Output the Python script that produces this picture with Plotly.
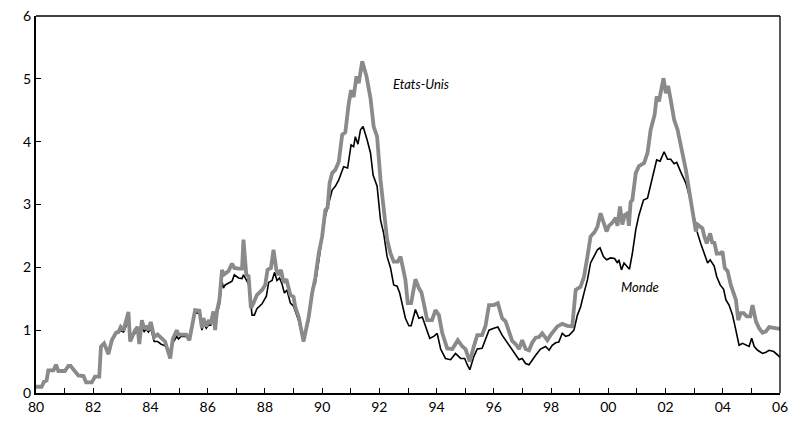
import plotly.graph_objects as go

# Etats-Unis (gray, thick)
us_x = [1980.00, 1980.20, 1980.28, 1980.37, 1980.43, 1980.61, 1980.70, 1980.78, 1981.01, 1981.13,
        1981.21, 1981.36, 1981.48, 1981.66, 1981.75, 1981.95, 1982.06, 1982.21, 1982.27, 1982.38,
        1982.53, 1982.65, 1982.80, 1982.88, 1982.96, 1983.06, 1983.23, 1983.29, 1983.46, 1983.55,
        1983.61, 1983.70, 1983.78, 1983.85, 1983.93, 1984.01, 1984.13, 1984.25, 1984.36, 1984.51,
        1984.69, 1984.78, 1984.92, 1984.98, 1985.06, 1985.25, 1985.36, 1985.56, 1985.71, 1985.80,
        1985.85, 1985.95, 1986.03, 1986.11, 1986.20, 1986.26, 1986.32, 1986.41, 1986.50, 1986.55,
        1986.61, 1986.73, 1986.85, 1986.93, 1987.08, 1987.20, 1987.25, 1987.35, 1987.43, 1987.51,
        1987.60, 1987.72, 1987.90, 1988.01, 1988.09, 1988.21, 1988.30, 1988.40, 1988.48, 1988.56,
        1988.65, 1988.75, 1988.89, 1989.00, 1989.06, 1989.18, 1989.35, 1989.53, 1989.65, 1989.76,
        1989.88, 1990.00, 1990.11, 1990.19, 1990.26, 1990.35, 1990.46, 1990.58, 1990.70, 1990.81,
        1990.93, 1991.01, 1991.10, 1991.20, 1991.28, 1991.40, 1991.55, 1991.69, 1991.80, 1991.92,
        1992.04, 1992.15, 1992.27, 1992.39, 1992.50, 1992.64, 1992.74, 1992.91, 1992.99, 1993.11,
        1993.26, 1993.38, 1993.47, 1993.55, 1993.67, 1993.84, 1993.96, 1994.08, 1994.20, 1994.37,
        1994.55, 1994.74, 1994.90, 1995.01, 1995.16, 1995.30, 1995.42, 1995.59, 1995.71, 1995.83,
        1996.00, 1996.14, 1996.29, 1996.41, 1996.53, 1996.64, 1996.76, 1996.88, 1996.99, 1997.11,
        1997.23, 1997.34, 1997.46, 1997.58, 1997.69, 1997.87, 1997.98, 1998.10, 1998.22, 1998.39,
        1998.57, 1998.74, 1998.86, 1999.03, 1999.15, 1999.27, 1999.38, 1999.52, 1999.62, 1999.73,
        1999.85, 1999.94, 2000.02, 2000.14, 2000.26, 2000.32, 2000.41, 2000.49, 2000.57, 2000.67,
        2000.72, 2000.78, 2000.84, 2000.96, 2001.07, 2001.25, 2001.37, 2001.48, 2001.62, 2001.69,
        2001.77, 2001.86, 2001.93, 2002.01, 2002.09, 2002.18, 2002.30, 2002.42, 2002.59, 2002.71,
        2002.88, 2003.00, 2003.06, 2003.12, 2003.21, 2003.29, 2003.35, 2003.44, 2003.56, 2003.64,
        2003.70, 2003.79, 2003.91, 2003.99, 2004.07, 2004.17, 2004.28, 2004.37, 2004.46, 2004.54,
        2004.63, 2004.73, 2004.84, 2004.96, 2005.04, 2005.16, 2005.27, 2005.39, 2005.51, 2005.62,
        2005.80, 2006.00]
us_y = [0.10, 0.10, 0.18, 0.20, 0.36, 0.36, 0.45, 0.35, 0.35, 0.43,
        0.43, 0.35, 0.28, 0.27, 0.17, 0.17, 0.26, 0.26, 0.74, 0.79,
        0.62, 0.84, 0.96, 0.97, 1.05, 1.00, 1.29, 0.82, 1.00, 1.05,
        0.78, 1.16, 1.02, 1.07, 1.00, 1.13, 0.89, 0.93, 0.88, 0.82,
        0.55, 0.86, 1.00, 0.93, 0.93, 0.93, 0.84, 1.32, 1.31, 1.03,
        1.19, 1.06, 1.14, 1.12, 1.30, 1.00, 1.30, 1.48, 1.96, 1.88,
        1.90, 1.94, 2.06, 1.99, 1.98, 1.98, 2.44, 1.88, 1.86, 1.35,
        1.43, 1.56, 1.64, 1.72, 1.96, 1.99, 2.28, 1.96, 1.88, 1.96,
        1.76, 1.81, 1.56, 1.53, 1.37, 1.21, 0.82, 1.21, 1.59, 1.83,
        2.22, 2.49, 2.91, 2.95, 3.34, 3.50, 3.55, 3.68, 4.11, 4.15,
        4.61, 4.82, 4.71, 5.04, 4.93, 5.28, 5.04, 4.69, 4.24, 4.08,
        3.39, 2.91, 2.44, 2.22, 2.09, 2.09, 2.17, 1.80, 1.43, 1.43,
        1.81, 1.67, 1.60, 1.43, 1.16, 1.16, 1.32, 1.24, 0.95, 0.71,
        0.70, 0.84, 0.74, 0.70, 0.50, 0.74, 0.92, 0.92, 1.07, 1.40,
        1.40, 1.43, 1.19, 1.14, 0.95, 0.83, 0.78, 0.70, 0.84, 0.70,
        0.68, 0.80, 0.88, 0.89, 0.95, 0.84, 0.92, 0.98, 1.06, 1.10,
        1.07, 1.06, 1.64, 1.69, 1.85, 2.17, 2.49, 2.56, 2.65, 2.86,
        2.70, 2.57, 2.66, 2.71, 2.79, 2.66, 2.97, 2.68, 2.83, 2.86,
        2.66, 3.04, 3.07, 3.50, 3.61, 3.66, 3.82, 4.19, 4.43, 4.72,
        4.64, 4.85, 5.01, 4.77, 4.89, 4.67, 4.35, 4.19, 3.82, 3.55,
        3.07, 2.75, 2.57, 2.68, 2.65, 2.62, 2.50, 2.38, 2.54, 2.38,
        2.41, 2.22, 2.22, 2.25, 1.99, 1.94, 1.72, 1.61, 1.48, 1.16,
        1.27, 1.27, 1.22, 1.22, 1.40, 1.14, 1.03, 0.96, 0.98, 1.05,
        1.04, 1.02]

# Monde (black, thin)
world_x = [1980.00, 1980.20, 1980.28, 1980.37, 1980.43, 1980.61, 1980.70, 1980.78, 1981.01, 1981.13,
           1981.21, 1981.36, 1981.48, 1981.66, 1981.75, 1981.95, 1982.06, 1982.21, 1982.27, 1982.38,
           1982.53, 1982.65, 1982.80, 1982.96, 1983.06, 1983.23, 1983.29, 1983.46, 1983.55, 1983.61,
           1983.70, 1983.78, 1983.85, 1983.93, 1984.01, 1984.13, 1984.25, 1984.36, 1984.51, 1984.69,
           1984.78, 1984.92, 1984.98, 1985.06, 1985.25, 1985.36, 1985.56, 1985.71, 1985.80, 1985.85,
           1985.95, 1986.03, 1986.11, 1986.20, 1986.26, 1986.32, 1986.41, 1986.50, 1986.55, 1986.61,
           1986.73, 1986.85, 1986.93, 1987.08, 1987.20, 1987.25, 1987.35, 1987.43, 1987.55, 1987.63,
           1987.72, 1987.90, 1988.05, 1988.13, 1988.25, 1988.34, 1988.42, 1988.51, 1988.60, 1988.68,
           1988.77, 1988.89, 1989.00, 1989.06, 1989.18, 1989.35, 1989.53, 1989.65, 1989.76, 1989.88,
           1990.00, 1990.11, 1990.23, 1990.35, 1990.46, 1990.58, 1990.75, 1990.89, 1991.01, 1991.10,
           1991.16, 1991.25, 1991.34, 1991.43, 1991.57, 1991.69, 1991.78, 1991.92, 1992.04, 1992.15,
           1992.27, 1992.39, 1992.50, 1992.62, 1992.71, 1992.80, 1992.91, 1993.03, 1993.11, 1993.26,
           1993.38, 1993.50, 1993.55, 1993.67, 1993.76, 1993.90, 1994.02, 1994.14, 1994.31, 1994.49,
           1994.66, 1994.84, 1994.98, 1995.07, 1995.16, 1995.30, 1995.42, 1995.59, 1995.71, 1995.83,
           1996.00, 1996.14, 1996.29, 1996.41, 1996.56, 1996.70, 1996.88, 1996.99, 1997.11, 1997.23,
           1997.34, 1997.46, 1997.63, 1997.81, 1997.93, 1998.04, 1998.16, 1998.27, 1998.39, 1998.51,
           1998.63, 1998.80, 1998.92, 1999.03, 1999.15, 1999.27, 1999.38, 1999.50, 1999.62, 1999.71,
           1999.83, 1999.94, 2000.08, 2000.22, 2000.32, 2000.37, 2000.46, 2000.55, 2000.64, 2000.74,
           2000.84, 2000.96, 2001.07, 2001.23, 2001.37, 2001.48, 2001.60, 2001.69, 2001.81, 2001.95,
           2002.07, 2002.18, 2002.30, 2002.39, 2002.53, 2002.71, 2002.88, 2003.00, 2003.12, 2003.23,
           2003.35, 2003.47, 2003.56, 2003.70, 2003.79, 2003.91, 2004.03, 2004.11, 2004.22, 2004.34,
           2004.42, 2004.49, 2004.57, 2004.69, 2004.81, 2004.92, 2005.01, 2005.10, 2005.22, 2005.39,
           2005.51, 2005.62, 2005.78, 2005.92, 2006.00]
world_y = [0.09, 0.09, 0.17, 0.19, 0.35, 0.35, 0.44, 0.34, 0.34, 0.42,
           0.42, 0.34, 0.27, 0.26, 0.16, 0.16, 0.25, 0.25, 0.72, 0.77,
           0.62, 0.82, 0.95, 0.99, 0.97, 1.15, 0.85, 0.95, 0.98, 0.85,
           1.05, 0.98, 1.02, 0.97, 1.03, 0.82, 0.82, 0.78, 0.75, 0.65,
           0.80, 0.90, 0.86, 0.90, 0.90, 0.84, 1.28, 1.26, 1.00, 1.12,
           1.03, 1.08, 1.08, 1.22, 1.05, 1.25, 1.40, 1.78, 1.67, 1.72,
           1.75, 1.78, 1.88, 1.83, 1.82, 1.88, 1.80, 1.73, 1.24, 1.24,
           1.34, 1.42, 1.54, 1.76, 1.79, 1.92, 1.79, 1.83, 1.73, 1.59,
           1.64, 1.43, 1.38, 1.30, 1.15, 0.82, 1.15, 1.66, 1.74, 2.10,
           2.49, 2.81, 3.02, 3.23, 3.29, 3.39, 3.60, 3.58, 3.95, 3.92,
           4.08, 3.96, 4.19, 4.24, 4.03, 3.82, 3.47, 3.29, 2.75, 2.54,
           2.17, 1.99, 1.72, 1.70, 1.59, 1.40, 1.19, 1.07, 1.07, 1.33,
           1.19, 1.21, 1.14, 1.00, 0.87, 0.90, 0.95, 0.70, 0.55, 0.53,
           0.63, 0.55, 0.55, 0.45, 0.37, 0.58, 0.70, 0.71, 0.84, 1.00,
           1.03, 1.05, 0.92, 0.84, 0.74, 0.63, 0.53, 0.55, 0.47, 0.45,
           0.53, 0.60, 0.70, 0.74, 0.68, 0.76, 0.80, 0.81, 0.95, 0.90,
           0.92, 1.00, 1.24, 1.37, 1.59, 1.80, 2.07, 2.17, 2.28, 2.31,
           2.17, 2.12, 2.15, 2.14, 2.07, 2.12, 1.96, 2.07, 2.02, 1.97,
           2.22, 2.60, 2.83, 3.07, 3.10, 3.31, 3.50, 3.71, 3.69, 3.84,
           3.72, 3.72, 3.65, 3.67, 3.52, 3.34, 3.05, 2.80, 2.54, 2.38,
           2.22, 2.07, 2.12, 2.02, 1.85, 1.72, 1.65, 1.48, 1.40, 1.24,
           1.08, 0.92, 0.76, 0.79, 0.76, 0.74, 0.87, 0.74, 0.68, 0.63,
           0.65, 0.68, 0.66, 0.60, 0.57]

# one tick per year, labelled every second year
tick_years = [1980, 1981, 1982, 1983, 1984, 1985, 1986, 1987, 1988, 1989, 1990, 1991, 1992,
              1993, 1994, 1995, 1996, 1997, 1998, 1999, 2000, 2001, 2002, 2003, 2004, 2005, 2006]
tick_labels = ["80", "", "82", "", "84", "", "86", "", "88", "", "90", "", "92",
               "", "94", "", "96", "", "98", "", "00", "", "02", "", "04", "", "06"]

label_us = "Etats-Unis"
label_world = "Monde"

FONT = "Lato"

fig = go.Figure()
fig.add_trace(go.Scatter(x=world_x, y=world_y, mode="lines",
                         line=dict(color="#000000", width=1.6), name=label_world,
                         hoverinfo="skip"))
fig.add_trace(go.Scatter(x=us_x, y=us_y, mode="lines",
                         line=dict(color="#8a8a8a", width=3.8), name=label_us,
                         hoverinfo="skip"))

fig.add_annotation(x=1993.44, y=4.92, text=f"<i>{label_us}</i>", showarrow=False,
                   font=dict(family=FONT, size=13, color="#000000"))
fig.add_annotation(x=2001.1, y=1.69, text=f"<i>{label_world}</i>", showarrow=False,
                   font=dict(family=FONT, size=13, color="#000000"))

fig.update_layout(
    width=788, height=425,
    margin=dict(l=36, r=8, t=16, b=32),
    paper_bgcolor="white", plot_bgcolor="white",
    showlegend=False,
    font=dict(family=FONT, size=14, color="#000000"),
    shapes=[
        dict(type="line", xref="paper", yref="paper", x0=0, x1=1, y0=1, y1=1,
             line=dict(color="black", width=1.3)),
        dict(type="line", xref="paper", yref="paper", x0=1, x1=1, y0=0, y1=1,
             line=dict(color="black", width=1.3)),
    ],
)
fig.update_layout(
    xaxis=dict(range=[1980, 2006], tickmode="array", tickvals=tick_years, ticktext=tick_labels,
               ticks="inside", ticklen=5, tickwidth=1.2, tickcolor="black",
               showline=True, linecolor="black", linewidth=2, showgrid=False, zeroline=False,
               automargin=False, ticklabeloverflow="allow",
               tickfont=dict(family=FONT, size=14)),
    yaxis=dict(range=[0, 6], dtick=1, tick0=0,
               ticks="inside", ticklen=5, tickwidth=1.2, tickcolor="black",
               showline=True, linecolor="black", linewidth=2, showgrid=False, zeroline=False,
               automargin=False,
               tickfont=dict(family=FONT, size=14)),
)

fig.write_html("out.html", config={"displayModeBar": False},
               post_script="document.body.style.margin='0px';document.body.style.overflow='hidden';")
